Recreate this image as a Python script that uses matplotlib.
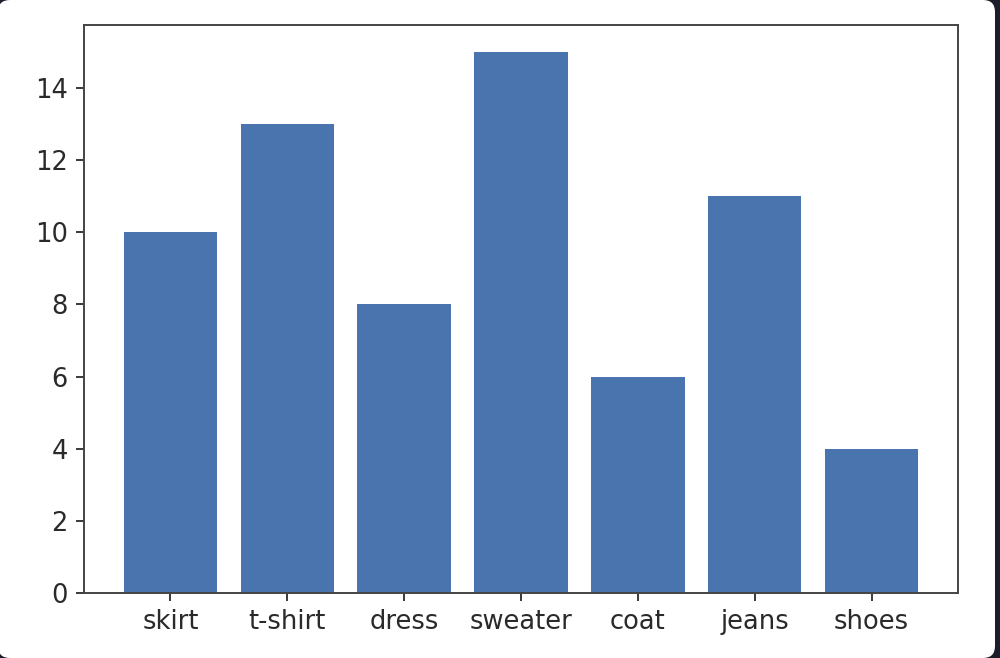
import matplotlib
matplotlib.use("Agg")
import matplotlib.pyplot as plt
from matplotlib.patches import FancyBboxPatch
from matplotlib.transforms import IdentityTransform

items = ["skirt", "t-shirt", "dress", "sweater", "coat", "jeans", "shoes"]
counts = [10, 13, 8, 15, 6, 11, 4]

fig = plt.figure(figsize=(10, 6.58), dpi=100, facecolor="#1c1f2b")

# white screenshot card with rounded corners, dark background around it
card = FancyBboxPatch((-2, 0), 997, 658,
                      boxstyle="round,pad=0,rounding_size=12",
                      transform=IdentityTransform(), facecolor="white",
                      edgecolor="none", zorder=-10)
fig.patches.append(card)

ax = fig.add_axes([0.084, 0.099, 0.874, 0.863])
ax.bar(items, counts, width=0.8, color="#4a74ad")

ax.set_yticks(range(0, 15, 2))
ax.tick_params(labelsize=18.5, length=5.8, width=1.3, pad=5.8, colors="#2a2a2a")
for s in ax.spines.values():
    s.set_linewidth(1.4)
    s.set_color("#444444")

fig.savefig("out.png", dpi=100, facecolor=fig.get_facecolor())
